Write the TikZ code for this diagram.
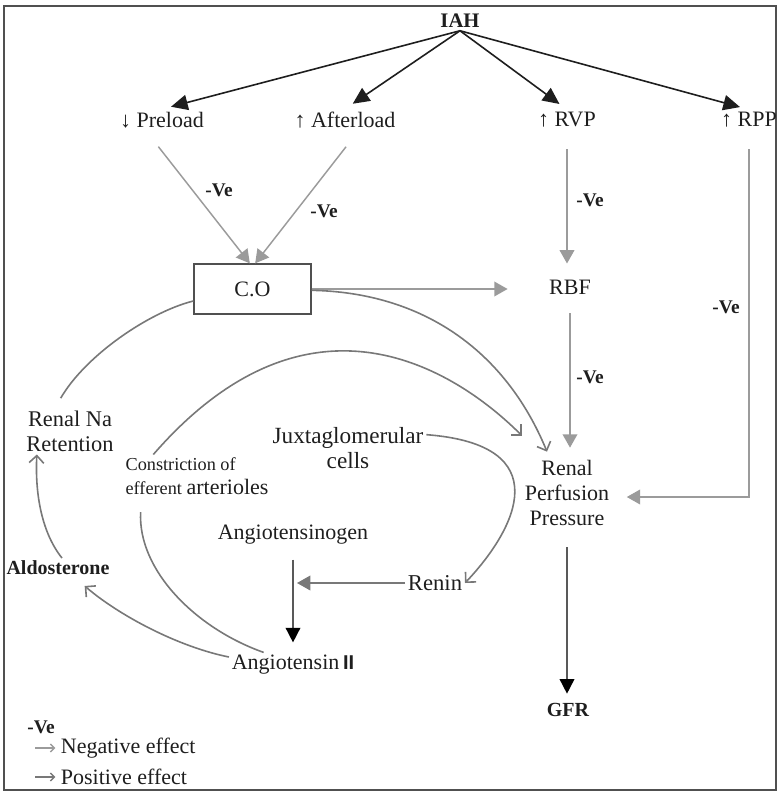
\documentclass[tikz,border=0pt]{standalone}
\usepackage{fontspec}
\setmainfont{Liberation Serif}
\setsansfont{Liberation Sans}
\usepackage{xcolor}
\usepackage{tikz}
\usetikzlibrary{arrows.meta,positioning}
\definecolor{negray}{RGB}{155,155,155}
\definecolor{posgray}{RGB}{120,120,120}
\definecolor{inkdark}{RGB}{30,30,30}
\definecolor{framegray}{RGB}{80,80,80}

\begin{document}
\begin{tikzpicture}[x=0.75pt,y=-0.75pt,
  every node/.style={font=\fontsize{16.5}{19}\selectfont,text=inkdark,inner sep=2pt,align=center},
  iaharrow/.style={draw=inkdark,line width=1.2pt,-{Triangle[length=12.5pt,width=11.5pt]}},
  negarrow/.style={draw=negray,line width=1.1pt,-{Triangle[length=10pt,width=11pt]}},
  posarrow/.style={draw=posgray,line width=1.2pt},
  barb/.style={-{Straight Barb[length=5.5pt,width=11pt]}},
  keyarrow/.style={draw=gray!70!black,line width=1.2pt,-{Triangle[length=11pt,width=11pt,black]}},
  velabel/.style={font=\fontsize{14.5}{16}\selectfont\bfseries}]
\useasboundingbox (0,0) rectangle (778,792);
\draw[framegray,line width=1.1pt] (4,6) rectangle (776,790);

\node[font=\fontsize{15.5}{18}\selectfont\bfseries] (iah) at (460,21) {IAH};
\node (pre) at (162,120) {↓ Preload};
\node (aft) at (345,120) {↑ Afterload};
\node (rvp) at (567,120) {↑ RVP};
\node (rpp) at (749,120) {↑ RPP};
\node[draw=framegray,line width=1pt,minimum width=87.75pt,minimum height=37.5pt] (co) at (252.5,289) {C.O};
\node (rbf) at (570,287) {RBF};
\node[font=\fontsize{16.8}{19}\selectfont] (rnr) at (70,431) {Renal Na\\Retention};
\node[align=left,font=\fontsize{13.7}{18}\selectfont] (con) at (197,476) {Constriction of\\efferent {\fontsize{16.5}{18}\selectfont arterioles}};
\node[font=\fontsize{17.4}{19}\selectfont] (jux) at (348,448) {Juxtaglomerular\\cells};
\node (rpper) at (567,493) {Renal\\Perfusion\\Pressure};
\node (agn) at (293,535) {Angiotensinogen};
\node[font=\fontsize{15}{18}\selectfont\bfseries] (ald) at (58,568) {Aldosterone};
\node[font=\fontsize{17}{19}\selectfont] (ren) at (435,583) {Renin};
\node (ang2) at (293,665) {Angiotensin\,{\fontsize{15}{18}\selectfont\sffamily\bfseries II}};
\node[font=\fontsize{15}{18}\selectfont\bfseries] (gfr) at (568,710) {GFR};

\foreach \n in {pre,aft,rvp,rpp}{\draw[iaharrow,shorten >=7pt] (iah.south) -- (\n.north);}

\draw[negarrow,shorten <=15pt] ([xshift=-12pt]pre.south) -- ([xshift=-2pt]co.north);
\draw[negarrow,shorten <=15pt] ([xshift=10pt]aft.south) -- ([xshift=2pt]co.north);
\draw[negarrow,shorten <=14pt,shorten >=10pt] (rvp.south) -- (rvp.south |- rbf.north);
\draw[negarrow,shorten >=29pt] (co.east) -- (co.east -| rbf.west);
\draw[negarrow,shorten <=12pt,shorten >=7pt] (rbf.south) -- (rbf.south |- rpper.north);
\draw[negarrow,shorten <=14pt,shorten >=11pt] (rpp.south) |- ([yshift=-3pt]rpper.east);
\node[velabel] (ve1) at (219,190) {-Ve};
\node[velabel] (ve2) at (324,211) {-Ve};
\node[velabel] (ve3) at (590,200) {-Ve};
\node[velabel] (ve4) at (590,377) {-Ve};
\node[velabel] (ve5) at (726,307) {-Ve};

\draw[posarrow] ([xshift=-7pt,yshift=7pt]rnr.north) .. controls +(25,-43) and +(-44,11) .. ([yshift=-9pt]co.west);
\draw[posarrow,barb] ([xshift=3pt]ald.north) .. controls +(-20,-25) and +(-2,40) .. ([xshift=10pt]rnr.south west);
\draw[posarrow,barb] ([yshift=6pt]ang2.west) .. controls +(-50,-10) and +(35,30) .. ([xshift=20pt,yshift=-6pt]ald.south);
\draw[posarrow] ([xshift=-22pt]ang2.north) .. controls +(-68,-24) and +(-3,58) .. ([xshift=13.5pt,yshift=-11pt]con.south west);
\draw[posarrow,barb] ([xshift=23pt]con.north west) .. controls +(166,-191) and +(-50,-50) .. ([yshift=16pt]rpper.north west);
\draw[posarrow,barb] ([yshift=-1pt]co.east) .. controls +(110,2) and +(-42,-102) .. ([xshift=-15pt,yshift=4pt]rpper.north);
\draw[posarrow,barb] ([yshift=10pt]jux.east) .. controls +(132,10) and +(52,-55) .. (ren.east);
\draw[posarrow,-{Triangle[length=10pt,width=11pt]},shorten >=3pt] (ren.west) -- (ren.west -| agn.south);
\draw[keyarrow,shorten <=9pt,shorten >=7.5pt] (agn.south) -- (ang2.north);
\draw[keyarrow,shorten <=13.5pt,shorten >=5pt] (rpper.south) -- (rpper.south |- gfr.north);

\node[velabel] (vekey) at (41,727) {-Ve};
\node[anchor=west] (negkey) at (58,748) {Negative effect};
\node[anchor=west] (poskey) at (58,777) {Positive effect};
\coordinate (negtail) at (35,748);
\coordinate (postail) at (35,777);
\draw[negray,line width=1pt,-{Straight Barb[length=3pt,width=6pt]},shorten >=2pt] (negtail) -- (negkey.west);
\draw[posgray,line width=1pt,-{Straight Barb[length=3pt,width=6pt]},shorten >=2pt] (postail) -- (poskey.west);
\end{tikzpicture}
\end{document}
